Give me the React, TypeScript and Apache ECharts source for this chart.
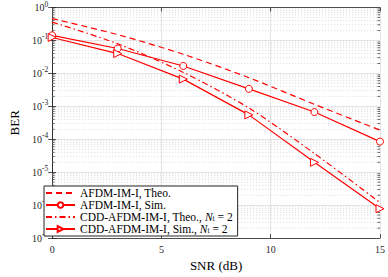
import React, { useEffect, useRef } from "react";
import * as echarts from "echarts";

const snr = [0, 3, 6, 9, 12, 15];
const afdmTheo = [0.46, 0.15, 0.038, 0.0074, 0.00115, 0.00019];
const afdmSim = [0.143, 0.057, 0.0168, 0.0034, 0.00067, 0.000085];
const cddTheo = [0.36, 0.079, 0.0107, 0.00089, 0.000037, 0.0000012];
const cddSim = [0.123, 0.04, 0.0067, 0.00055, 0.00002, 0.00000078];

const seriesNames = [
  "AFDM-IM-I, Theo.",
  "AFDM-IM-I, Sim.",
  "CDD-AFDM-IM-I, Theo., Nt = 2",
  "CDD-AFDM-IM-I, Sim., Nt = 2",
];
const xTicks = [0, 5, 10, 15];
const decades = [-7, -6, -5, -4, -3, -2, -1, 0];
const minorMultipliers = [2, 3, 4, 5, 6, 7, 8, 9];

const FONT = "Liberation Serif";
const RED = "#ff0000";
const AXIS = "#262626";

export default function App() {
  const ref = useRef<HTMLDivElement>(null);
  useEffect(() => {
    if (!ref.current) return;
    document.body.style.margin = "0";
    const chart = echarts.init(ref.current, undefined, { renderer: "svg" });
    const minorVals: number[] = [];
    decades.slice(0, -1).forEach((d) =>
      minorMultipliers.forEach((m) => minorVals.push(m * Math.pow(10, d)))
    );
    const pts = (arr: number[]) => snr.map((s, i) => [s, arr[i]]);
    const baseLine = { width: 1.2, color: RED };
    const LH = 11.7;
    chart.setOption({
      animation: false,
      backgroundColor: "#fff",
      grid: { left: 37, right: 5, top: 5, bottom: 30 },
      legend: {
        orient: "vertical",
        left: 44,
        top: 186,
        padding: [1, 5, 1, 1],
        itemWidth: 29,
        itemHeight: 7,
        itemGap: 0,
        borderColor: AXIS,
        borderWidth: 1,
        borderRadius: 0,
        backgroundColor: "#fff",
        data: [
          { name: seriesNames[0], itemStyle: { opacity: 0 } },
          { name: seriesNames[1] },
          { name: seriesNames[2], itemStyle: { opacity: 0 } },
          { name: seriesNames[3] },
        ],
        formatter: (name: string) => name.replace("Nt = 2", "{i|N}{s|t} = 2"),
        textStyle: {
          fontFamily: FONT,
          fontSize: 11.5,
          color: "#000",
          lineHeight: LH,
          rich: {
            i: { fontFamily: FONT, fontSize: 11.5, fontStyle: "italic", color: "#000", lineHeight: LH },
            s: { fontFamily: FONT, fontSize: 7.5, color: "#000", lineHeight: LH, verticalAlign: "bottom" },
          },
        },
      },
      xAxis: [
        {
          type: "value",
          min: xTicks[0],
          max: xTicks[xTicks.length - 1],
          interval: 5,
          name: "SNR (dB)",
          nameLocation: "middle",
          nameGap: 13,
          nameTextStyle: { fontFamily: FONT, fontSize: 13, color: "#000" },
          axisLine: { show: true, lineStyle: { color: AXIS, width: 0.8 } },
          axisTick: { show: true, inside: true, length: 4, lineStyle: { color: AXIS, width: 0.8 } },
          axisLabel: { fontFamily: FONT, fontSize: 10, color: AXIS, margin: 6 },
          splitLine: { show: true, lineStyle: { color: "#e4e4e4", width: 1 } },
        },
        {
          type: "value",
          position: "top",
          min: xTicks[0],
          max: xTicks[xTicks.length - 1],
          interval: 5,
          axisLine: { show: true, lineStyle: { color: AXIS, width: 0.8 } },
          axisTick: { show: true, inside: true, length: 4, lineStyle: { color: AXIS, width: 0.8 } },
          axisLabel: { show: false },
          splitLine: { show: false },
        },
      ],
      yAxis: [
        {
          type: "log",
          logBase: 10,
          min: Math.pow(10, decades[0]),
          max: Math.pow(10, decades[decades.length - 1]),
          splitNumber: 7,
          name: "BER",
          nameLocation: "middle",
          nameGap: 19,
          nameTextStyle: { fontFamily: FONT, fontSize: 13, color: "#000" },
          axisLine: { show: true, lineStyle: { color: AXIS, width: 0.8 } },
          axisTick: { show: true, inside: true, length: 4, lineStyle: { color: AXIS, width: 0.8 } },
          axisLabel: {
            fontFamily: FONT,
            fontSize: 10,
            color: AXIS,
            margin: 4,
            formatter: (v: number) => `10{e|${Math.round(Math.log10(v))}}`,
            rich: {
              e: { fontFamily: FONT, fontSize: 7.5, color: AXIS, verticalAlign: "top", lineHeight: 15 },
            },
          },
          splitLine: { show: true, lineStyle: { color: "#e4e4e4", width: 1 } },
        },
        {
          type: "log",
          logBase: 10,
          position: "right",
          min: Math.pow(10, decades[0]),
          max: Math.pow(10, decades[decades.length - 1]),
          splitNumber: 7,
          axisLine: { show: true, lineStyle: { color: AXIS, width: 0.8 } },
          axisTick: { show: true, inside: true, length: 4, lineStyle: { color: AXIS, width: 0.8 } },
          axisLabel: { show: false },
          splitLine: { show: false },
        },
      ],
      series: [
        {
          type: "custom",
          name: "minorGrid",
          silent: true,
          z: 1,
          xAxisIndex: 0,
          yAxisIndex: 0,
          data: minorVals.map((v) => [xTicks[0], v]),
          renderItem: (params: any, api: any) => {
            const y = api.coord([api.value(0), api.value(1)])[1];
            const cs = params.coordSys;
            return {
              type: "group",
              children: [
                {
                  type: "line",
                  shape: { x1: cs.x, y1: y, x2: cs.x + cs.width, y2: y },
                  style: { stroke: "#d2d2d2", lineWidth: 0.8, lineDash: [1, 2] },
                },
                {
                  type: "line",
                  shape: { x1: cs.x, y1: y, x2: cs.x + 2.5, y2: y },
                  style: { stroke: AXIS, lineWidth: 0.7 },
                },
                {
                  type: "line",
                  shape: { x1: cs.x + cs.width - 2.5, y1: y, x2: cs.x + cs.width, y2: y },
                  style: { stroke: AXIS, lineWidth: 0.7 },
                },
              ],
            };
          },
        },
        {
          type: "line",
          name: seriesNames[0],
          data: pts(afdmTheo),
          smooth: 0.3,
          symbol: "none",
          z: 3,
          itemStyle: { color: RED },
          lineStyle: { ...baseLine, type: [6, 4] },
        },
        {
          type: "line",
          name: seriesNames[1],
          data: pts(afdmSim),
          symbol: "circle",
          symbolSize: 7,
          z: 3,
          itemStyle: { color: "#fff", borderColor: RED, borderWidth: 1 },
          lineStyle: { ...baseLine, type: "solid" },
        },
        {
          type: "line",
          name: seriesNames[2],
          data: pts(cddTheo),
          smooth: 0.3,
          symbol: "none",
          z: 3,
          itemStyle: { color: RED },
          lineStyle: { ...baseLine, type: [6, 3, 1.5, 3] },
        },
        {
          type: "line",
          name: seriesNames[3],
          data: pts(cddSim),
          symbol: "triangle",
          symbolRotate: -90,
          symbolSize: 8,
          z: 3,
          itemStyle: { color: "#fff", borderColor: RED, borderWidth: 1 },
          lineStyle: { ...baseLine, type: "solid" },
        },
      ],
    });
    return () => chart.dispose();
  }, []);
  return <div ref={ref} style={{ width: 388, height: 277 }} />;
}
